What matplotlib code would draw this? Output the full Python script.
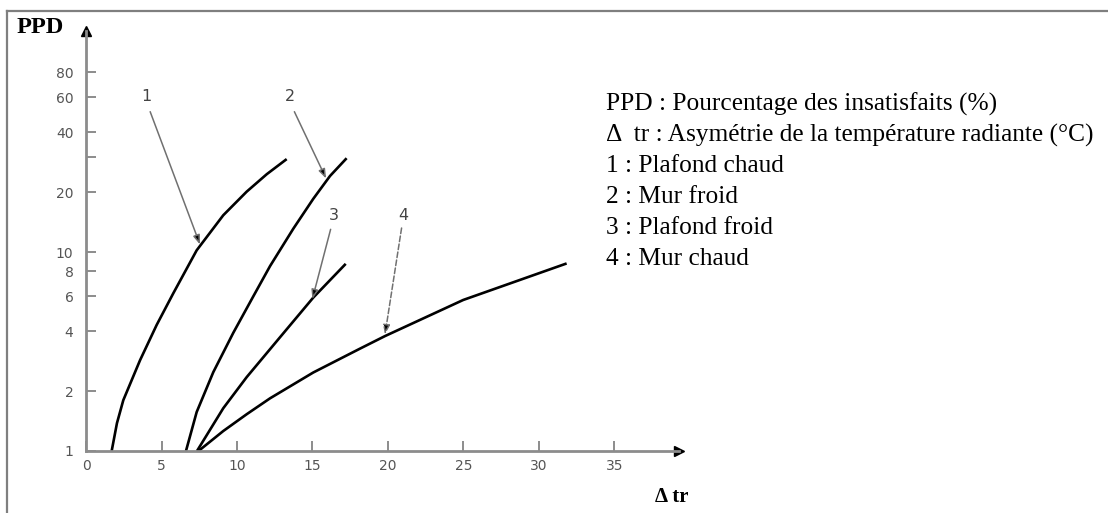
import matplotlib
matplotlib.use("Agg")
import matplotlib.pyplot as plt
from matplotlib.lines import Line2D

# ---- data ----
c1_x = [1.70, 2.05, 2.47, 3.58, 4.68, 5.78, 7.33, 9.09, 10.64, 11.97, 13.29]
c1_y = [1.0, 1.38, 1.80, 2.86, 4.30, 6.2, 10.2, 15.3, 20.1, 24.6, 29.3]
c2_x = [6.62, 7.33, 8.43, 9.75, 11.06, 12.19, 13.73, 15.05, 16.16, 17.26]
c2_y = [1.0, 1.57, 2.49, 3.92, 5.95, 8.5, 13.1, 18.5, 24.1, 29.6]
c3_x = [7.35, 9.09, 10.64, 12.85, 15.05, 17.2]
c3_y = [1.0, 1.64, 2.35, 3.73, 5.9, 8.72]
c4_x = [7.45, 9.09, 10.64, 12.19, 15.05, 18.15, 19.8, 24.98, 31.83]
c4_y = [1.0, 1.26, 1.53, 1.84, 2.48, 3.27, 3.78, 5.74, 8.76]

labels = ["1", "2", "3", "4"]
label_xy = [(4.0, 60.3), (13.5, 60.3), (16.4, 15.3), (21.0, 15.3)]
arrow_from = [(4.25, 50.7), (13.8, 50.7), (16.2, 13.0), (20.9, 13.2)]
arrow_to = [(7.55, 10.9), (15.9, 23.4), (14.99, 5.8), (19.8, 3.85)]
arrow_style = ["-", "-", "-", "--"]

x_ticks = [0, 5, 10, 15, 20, 25, 30, 35]
y_ticks = [1, 2, 4, 6, 8, 10, 20, 30, 40, 60, 80]
y_ticklabels = ["1", "2", "4", "6", "8", "10", "20", "", "40", "60", "80"]

legend_lines = [
    "PPD : Pourcentage des insatisfaits (%)",
    "\u0394  tr : Asym\u00e9trie de la temp\u00e9rature radiante (\u00b0C)",
    "1 : Plafond chaud",
    "2 : Mur froid",
    "3 : Plafond froid",
    "4 : Mur chaud",
]

W, H = 1108, 513
fig = plt.figure(figsize=(W / 100, H / 100), dpi=100)
fig.patch.set_facecolor("white")

# outer frame lines (top and left)
fig.add_artist(Line2D([7 / W, 1.0], [1 - 10.5 / H, 1 - 10.5 / H], color="#7f7f7f", lw=1.6))
fig.add_artist(Line2D([7 / W, 7 / W], [0, 1 - 10.5 / H], color="#7f7f7f", lw=1.6))

ax = fig.add_axes([86 / W, 62 / H, 593 / W, 420 / H])
ax.set_yscale("log")
ax.set_xlim(0, 593 / 15.1)
ax.set_ylim(1, 10 ** (420 / 199))

for s in ["top", "right"]:
    ax.spines[s].set_visible(False)
for s in ["left", "bottom"]:
    ax.spines[s].set_color("#8c8c8c")
    ax.spines[s].set_linewidth(2.0)

ax.set_xticks(x_ticks)
ax.set_xticklabels([str(t) for t in x_ticks])
ax.set_yticks(y_ticks)
ax.set_yticklabels(y_ticklabels)
ax.minorticks_off()
ax.tick_params(axis="both", direction="in", length=7, width=1.4, color="#8c8c8c",
               labelcolor="#555555", labelsize=10)
ax.tick_params(axis="y", pad=9)
ax.tick_params(axis="x", pad=6)
for lab in ax.get_xticklabels() + ax.get_yticklabels():
    lab.set_family("DejaVu Sans")

# axis arrow heads
ax.plot([1], [0], marker=">", color="black", ms=7, transform=ax.transAxes, clip_on=False)
ax.plot([0], [1], marker="^", color="black", ms=7, transform=ax.transAxes, clip_on=False)

# curves
for cx, cy in [(c1_x, c1_y), (c2_x, c2_y), (c3_x, c3_y), (c4_x, c4_y)]:
    ax.plot(cx, cy, color="black", lw=1.9, solid_capstyle="butt", solid_joinstyle="round")

# labels and pointer arrows
for lab, (lx, ly), (fx, fy), (tx, ty), ls in zip(labels, label_xy, arrow_from, arrow_to, arrow_style):
    ax.text(lx, ly, lab, ha="center", va="center", fontsize=11.5, color="#444444",
            family="DejaVu Sans")
    ax.annotate("", xy=(tx, ty), xytext=(fx, fy),
                arrowprops=dict(arrowstyle="-|>,head_length=0.55,head_width=0.2",
                                ec="#707070", fc="black", lw=1.1, linestyle=ls,
                                shrinkA=0, shrinkB=0))

# axis titles
fig.text(17 / W, 1 - 27.5 / H, "PPD", ha="left", va="center", fontsize=17.5,
         fontweight="bold", family="Liberation Serif", color="black")
fig.text(672 / W, 1 - 497 / H, "\u0394 tr", ha="center", va="center", fontsize=15,
         fontweight="bold", family="Liberation Serif", color="black")

# explanatory text block
y0 = 104
for i, line in enumerate(legend_lines):
    fig.text(606 / W, 1 - (y0 + i * 31) / H, line, ha="left", va="center",
             fontsize=18.3, family="Liberation Serif", color="black")

fig.savefig("out.png", dpi=100)
